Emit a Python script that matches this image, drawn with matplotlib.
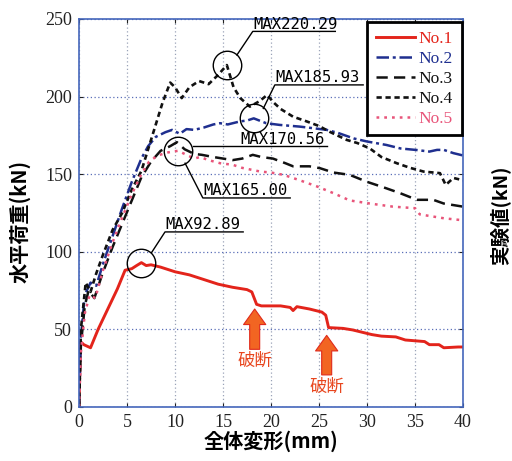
import matplotlib
matplotlib.use('Agg')
import numpy as np
import matplotlib.pyplot as plt

plt.rcParams['font.family'] = ['Liberation Serif', 'Noto Sans CJK JP', 'DejaVu Sans']

# No.1 (red, solid)
x1 = [0, 0.15, 0.5, 1.2, 2.0, 3.0, 4.0, 4.8, 5.5, 6.0, 6.5, 7.0, 7.5, 8.5, 10.0, 11.5, 13.0, 14.5, 16.0, 17.5,
      18.0, 18.5, 19.0, 21.0, 22.0, 22.3, 22.7, 24.0, 25.3, 25.7, 26.0, 27.5, 28.5, 29.5, 30.5, 31.5, 33.0, 34.0,
      35.0, 36.0, 36.5, 37.5, 38.0, 39.5, 40.0]
y1 = [0, 42, 40, 38, 50, 63, 76, 88, 89, 91, 92.89, 91, 91.5, 90, 87, 85, 82, 79, 77, 75.5,
      74, 66, 65, 65, 64, 62, 64.5, 63, 61, 59, 51, 50.5, 49.5, 48, 46.5, 45.5, 45, 43,
      42.5, 42, 40, 40, 38, 38.5, 38.5]

# No.2 (blue, dash-dot)
x2 = [0, 0.2, 0.6, 1.2, 1.8, 2.5, 3.5, 4.5, 5.5, 6.5, 7.2, 8.0, 9.0, 9.7, 10.5, 11.2, 12.0, 13.0, 14.0, 14.7,
      15.5, 16.8, 17.5, 18.2, 19.0, 19.5, 20.9, 23.0, 24.5, 25.8, 27.0, 28.6, 30.0, 32.0, 33.5, 35.2, 36.5,
      37.3, 38.0, 39.0, 40.0]
y2 = [0, 45, 72, 80, 78, 92, 110, 128, 145, 160, 168, 174, 177, 178.5, 176, 179, 178.5, 180, 182, 182.8,
      182, 184, 184.5, 185.93, 184, 182.8, 181.7, 180.6, 179.5, 178.5, 176.5, 173, 171, 168.8, 166.5, 165.5, 164.5,
      165.6, 165.6, 163.5, 162]

# No.3 (black, long dash)
x3 = [0, 0.2, 0.6, 1.0, 1.6, 2.4, 3.5, 4.5, 5.5, 6.5, 7.5, 8.5, 9.5, 10.2, 11.0, 12.0, 12.8, 14.0, 16.0, 17.0,
      18.1, 19.0, 20.2, 21.5, 22.3, 24.0, 25.1, 26.5, 28.2, 30.0, 31.7, 33.4, 35.2, 36.9, 38.0, 39.0, 40.0]
y3 = [0, 40, 65, 75, 70, 85, 103, 118, 133, 148, 158, 165, 168, 170.56, 166, 163, 162.4, 161, 159, 160,
      162.4, 161, 160, 157, 155, 155, 153.8, 151, 149.5, 145, 141.5, 137.8, 133.4, 133.4, 131, 130, 129]

# No.4 (black, short dash)
x4 = [0, 0.2, 0.7, 1.2, 1.8, 2.5, 3.5, 4.5, 5.5, 6.5, 7.3, 8.0, 8.7, 9.5, 10.0, 10.7, 11.5, 12.5, 13.5, 14.5,
      15.4, 16.1, 16.8, 17.8, 18.8, 19.6, 20.3, 21.0, 22.3, 23.7, 25.0, 26.2, 27.9, 29.0, 30.3, 31.5, 33.1, 34.5,
      35.9, 37.6, 38.2, 39.0, 40.0]
y4 = [0, 50, 80, 74, 86, 98, 114, 125, 140, 152, 168, 182, 196, 209, 206, 199, 206, 210, 208, 214,
      220.29, 206, 199, 193.5, 197, 201, 196, 192, 187, 184, 181, 177, 172, 170, 166.5, 161, 157, 154,
      151.6, 150.6, 143, 147.5, 146]

# No.5 (pink, dotted)
x5 = [0, 0.2, 0.6, 1.1, 1.7, 2.5, 3.5, 4.5, 5.5, 6.5, 7.3, 8.2, 9.3, 10.3, 11.0, 12.0, 12.6, 13.5, 14.7, 16.0,
      17.0, 18.9, 20.0, 21.3, 23.0, 24.8, 26.5, 28.2, 30.3, 32.7, 35.0, 35.5, 36.9, 38.0, 39.7, 40.0]
y5 = [0, 35, 60, 72, 70, 88, 106, 122, 137, 150, 158, 162, 164, 165.0, 163, 160, 161, 159, 157, 156,
      154, 151.6, 151, 149.5, 146, 142, 137.7, 133, 131, 129, 128, 124, 122.6, 121.5, 120.4, 119]

labels = ['No.1', 'No.2', 'No.3', 'No.4', 'No.5']
colors = ['#e3241b', '#1f2f8f', '#111111', '#111111', '#e8557a']

fig = plt.figure(figsize=(5.12, 4.61), dpi=100)
ax = fig.add_axes([0.1543, 0.1178, 0.75, 0.841])

ax.plot(x1, y1, color=colors[0], lw=2.1, label=labels[0])
ax.plot(x2, y2, color=colors[1], lw=1.8, dashes=(5, 1.5, 1.2, 1.5), label=labels[1])
ax.plot(x3, y3, color=colors[2], lw=1.8, dashes=(4.5, 2.5), label=labels[2])
ax.plot(x4, y4, color=colors[3], lw=1.9, dashes=(2, 1.4), label=labels[3])
ax.plot(x5, y5, color=colors[4], lw=1.8, dashes=(1.1, 2), label=labels[4])

ax.set_xlim(0, 40)
ax.set_ylim(0, 250)
ax.set_xticks(np.arange(0, 41, 5))
ax.set_yticks(np.arange(0, 251, 50))
ax.tick_params(direction='in', length=3, top=True, right=True, labelsize=13, pad=5,
               colors='#222222')
for s in ax.spines.values():
    s.set_color('#4466bb')
    s.set_linewidth(1.2)
ax.xaxis.grid(True, linestyle=(0, (1, 2)), color='#9aa3b8', lw=0.9)
ax.yaxis.grid(True, linestyle=(0, (1, 2)), color='#5a6fb8', lw=0.9)
ax.set_axisbelow(True)

leg = ax.legend(loc='upper right', bbox_to_anchor=(0.997, 0.992), borderaxespad=0, fancybox=False,
                framealpha=1, edgecolor='black', handlelength=2.3, handletextpad=0.2,
                labelspacing=0.22, borderpad=0.5, fontsize=12.5)
leg.get_frame().set_linewidth(2)
for t, c in zip(leg.get_texts(), colors):
    t.set_color(c)

# peak circles
cj = 'Noto Sans CJK JP'
mono = 'DejaVu Sans Mono'
for xs, ys in [(x1, y1), (x2, y2), (x4, y4), (x5, y5)]:
    i = int(np.argmax(ys))
    ax.plot(xs[i], ys[i], 'o', ms=20.5, mfc='none', mec='black', mew=1.0, zorder=5)

# MAX labels: (text, leader start, underline start, underline end, underline y)
notes = [
    ('MAX220.29', (16.45, 226.8), 18.1, 26.7, 242.0),
    ('MAX185.93', (19.2, 192.3), 20.4, 29.6, 207.5),
    ('MAX170.56', (11.85, 168.0), 11.85, 25.8, 168.0),
    ('MAX165.00', (11.05, 157.0), 12.9, 22.0, 134.6),
    ('MAX92.89', (7.55, 99.3), 8.96, 17.1, 112.7),
]
for txt, p0, xa, xb, yu in notes:
    ax.plot([p0[0], xa, xb], [p0[1], yu, yu], color='black', lw=1.0, zorder=5)
    tx = xa if txt != 'MAX170.56' else 16.8
    ax.text(tx + 0.05, yu + 1.6, txt, fontsize=11.2, family=mono, ha='left', va='baseline', zorder=6)

# break arrows
arrows = [(18.3, 37, 63, 29.5), (25.8, 20.5, 46, 12.7)]
for xa, yb, yt, ytxt in arrows:
    ax.annotate('', xy=(xa, yt), xytext=(xa, yb),
                arrowprops=dict(arrowstyle='simple,head_length=0.7,head_width=1.0,tail_width=0.45',
                                fc='#f26522', ec='#e02a1b', lw=0.8, mutation_scale=16,
                                shrinkA=0, shrinkB=0))
    ax.text(xa, ytxt, '破断', family=cj, fontsize=12.5, color='#e8461e', ha='center', va='center')

fig.text(0.5293, 0.043, '全体変形(mm)', family=cj, fontsize=14.5, fontweight='bold',
         ha='center', va='center')
fig.text(0.039, 0.52, '水平荷重(kN)', family=cj, fontsize=14.5, fontweight='bold',
         ha='center', va='center', rotation=90)
fig.text(0.977, 0.534, '実験値(kN)', family=cj, fontsize=14, fontweight='bold',
         ha='center', va='center', rotation=90)

fig.savefig('out.png', dpi=100)
